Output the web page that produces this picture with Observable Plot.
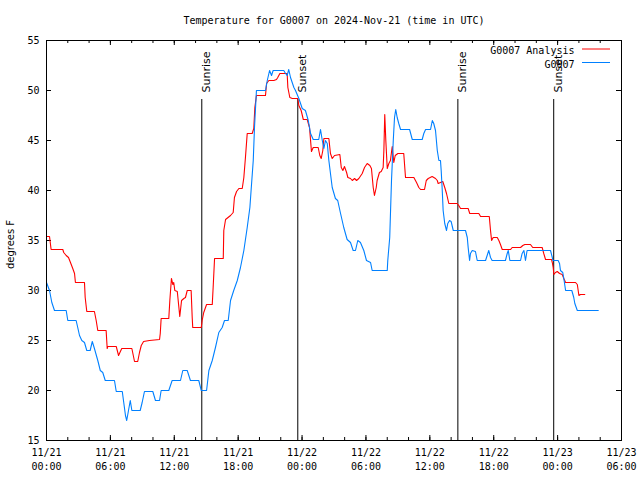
<!DOCTYPE html>
<html>
<head>
<meta charset="utf-8">
<script src="https://cdn.jsdelivr.net/npm/d3@7"></script>
<script src="https://cdn.jsdelivr.net/npm/@observablehq/plot@0.6"></script>
<style>
  html, body { margin: 0; padding: 0; background: #fff; }
  #chart svg { display: block; }
</style>
</head>
<body>
<div id="chart"></div>
<script>
// ---- Data (minutes since 2024-11-21 00:00 UTC, temperatures in °F) ----
const titleText = "Temperature for G0007 on 2024-Nov-21 (time in UTC)";
const yLabel = "degrees F";
const seriesNames = ["G0007 Analysis", "G0007"];

const analysisMinutes = [0,17,26,92,97,111,124,135,148,158,163,214,218,227,270,280,289,336,342,345,393,406,424,481,496,514,524,534,547,580,637,641,646,689,695,704,712,717,723,737,746,751,761,774,783,793,815,821,824,872,877,886,902,934,939,947,996,999,1009,1037,1052,1059,1071,1084,1103,1112,1121,1131,1159,1168,1174,1183,1234,1240,1253,1281,1296,1303,1315,1356,1360,1371,1385,1416,1422,1435,1447,1469,1482,1488,1493,1503,1531,1540,1548,1557,1563,1591,1600,1610,1623,1653,1661,1670,1679,1691,1698,1713,1723,1736,1747,1760,1779,1792,1807,1822,1831,1841,1848,1858,1863,1876,1886,1897,1901,1906,1912,1920,1929,1938,1948,1957,1965,1980,2013,2023,2070,2085,2098,2108,2130,2140,2151,2173,2192,2202,2207,2220,2233,2244,2254,2267,2314,2323,2333,2376,2385,2436,2446,2495,2502,2508,2517,2540,2549,2558,2568,2615,2624,2671,2684,2695,2727,2740,2793,2802,2812,2846,2850,2855,2859,2868,2878,2891,2906,2915,2925,2981,2991,3000,3009,3033];
const analysisTemps = [35.4,35.4,34.1,34.1,33.8,33.5,33.3,32.8,32.2,31.7,30.8,30.8,29.3,27.9,27.9,27.0,26.0,26.0,24.2,24.4,24.4,23.5,24.2,24.2,22.9,22.9,23.8,24.5,24.9,25.0,25.1,25.7,27.2,27.2,29.0,31.2,30.6,30.8,30.0,29.9,28.3,27.4,29.0,29.2,29.3,30.0,30.0,27.3,26.3,26.3,27.0,27.8,28.6,28.6,30.3,33.2,33.2,36.0,37.1,37.5,37.8,39.3,39.9,40.2,40.2,41.3,43.3,45.7,45.7,46.2,48.3,49.5,49.5,50.7,51.0,51.0,51.1,51.3,51.7,51.7,50.3,49.3,49.2,49.2,48.5,48.0,47.1,47.1,46.3,45.0,43.9,44.3,44.3,43.5,43.2,44.0,45.2,45.2,43.7,43.2,43.5,43.6,42.3,42.0,42.4,41.8,41.3,41.2,41.0,41.2,41.0,41.2,41.7,42.3,42.7,42.5,42.2,40.3,39.5,40.3,41.0,41.8,41.9,42.3,44.0,47.6,45.0,42.2,42.7,43.0,44.4,42.8,43.5,43.7,43.7,41.3,41.3,40.8,40.3,40.1,40.1,41.0,41.2,41.4,41.2,41.0,40.7,40.8,40.9,40.3,39.7,38.7,38.7,38.5,38.2,38.2,37.7,37.7,37.4,37.4,36.0,35.0,35.3,35.3,35.0,34.6,34.1,34.1,34.3,34.3,34.5,34.6,34.6,34.3,34.3,33.7,33.1,33.1,32.8,32.3,31.6,31.8,31.9,31.7,31.6,31.2,30.8,30.8,30.6,29.5,29.6,29.6];

const obsMinutes = [0,17,30,45,111,120,167,176,186,199,214,227,246,258,270,289,303,317,331,383,393,427,436,445,452,462,472,481,528,539,552,599,614,637,646,689,708,755,768,793,811,858,872,902,915,934,952,971,990,1003,1024,1037,1055,1075,1093,1112,1131,1146,1154,1165,1172,1183,1234,1244,1257,1268,1277,1337,1347,1356,1365,1375,1394,1403,1422,1441,1459,1475,1488,1503,1534,1544,1554,1563,1572,1582,1591,1610,1628,1641,1657,1675,1694,1713,1728,1741,1754,1769,1788,1803,1826,1835,1920,1923,1934,1944,1954,1961,1968,1976,1985,1995,2046,2061,2117,2126,2136,2164,2174,2182,2192,2202,2211,2220,2224,2230,2235,2244,2254,2261,2271,2280,2292,2361,2371,2376,2384,2389,2399,2417,2427,2474,2483,2492,2502,2511,2586,2596,2602,2611,2671,2680,2690,2699,2708,2840,2850,2853,2883,2891,2896,2909,2915,2925,2960,2971,2977,2991,3109];
const obsTemps = [30.8,30.0,28.8,28.0,28.0,27.0,27.0,26.3,25.5,25.0,24.8,24.0,24.0,24.9,24.2,23.0,22.0,21.8,21.0,21.0,19.9,19.9,18.7,17.5,17.0,18.0,19.0,18.0,18.0,18.8,19.9,19.9,19.0,19.0,20.0,20.0,21.0,21.0,22.0,22.0,21.0,21.0,20.0,20.0,22.0,23.0,24.3,25.8,26.3,27.0,27.0,29.0,30.0,31.0,32.3,34.0,36.3,38.3,40.3,43.0,46.3,50.0,50.0,51.0,52.0,51.5,52.0,52.0,51.7,51.5,52.1,51.3,50.3,50.0,49.2,48.2,48.0,47.0,45.7,45.1,45.1,46.1,45.0,44.2,45.0,44.7,43.0,40.3,39.2,39.0,37.7,36.3,35.1,34.8,34.0,34.0,35.0,34.8,34.0,33.0,32.8,32.0,32.0,33.0,35.3,41.0,45.0,47.3,48.1,47.3,46.7,46.1,46.1,45.1,45.1,45.7,46.1,46.1,47.0,46.7,46.0,44.0,43.0,43.0,42.0,40.0,38.0,36.7,36.0,36.7,37.0,36.9,36.0,36.0,35.3,34.3,33.0,33.7,34.0,33.9,33.0,33.0,33.5,34.0,33.3,33.0,33.0,33.7,34.0,33.0,33.0,33.7,34.0,33.0,34.0,34.0,33.3,33.0,33.0,32.7,32.0,31.8,31.2,30.0,30.0,29.3,28.7,28.0,28.0];

const sunTimes = ["2024-11-21T14:35Z", "2024-11-21T23:36Z", "2024-11-22T14:38Z", "2024-11-22T23:38Z"];
const sunLabels = ["Sunrise", "Sunset", "Sunrise", "Sunset"];

const yTicks = [15, 20, 25, 30, 35, 40, 45, 50, 55];
const xStart = "2024-11-21T00:00Z";
const xEnd = "2024-11-23T06:00Z";

// ---- Build tables ----
const t0 = Date.parse(xStart);
const toDate = m => new Date(t0 + m * 60000);
const analysis = analysisMinutes.map((m, i) => ({time: toDate(m), temp: analysisTemps[i]}));
const obs = obsMinutes.map((m, i) => ({time: toDate(m), temp: obsTemps[i]}));
const sun = sunTimes.map((t, i) => ({time: new Date(t), label: sunLabels[i]}));

const xDomain = [new Date(xStart), new Date(xEnd)];
const majorTicks = d3.utcHour.every(6).range(xDomain[0], new Date(+xDomain[1] + 1));
const minorTicks = d3.utcHour.every(2).range(xDomain[0], new Date(+xDomain[1] + 1));
const pad = n => String(n).padStart(2, "0");
const fmt = d => `${pad(d.getUTCMonth() + 1)}/${pad(d.getUTCDate())}\n${pad(d.getUTCHours())}:${pad(d.getUTCMinutes())}`;

const W = 640, H = 480, ML = 46, MR = 19, MT = 40, MB = 40;
const PW = W - ML - MR, PH = H - MT - MB;
const mono = "DejaVu Sans Mono";
const sans = "DejaVu Sans";
const RED = "#ff0000", BLUE = "#0080ff";

const chart = Plot.plot({
  width: W, height: H,
  marginLeft: ML, marginRight: MR, marginTop: MT, marginBottom: MB,
  style: {background: "#fff", color: "#000"},
  x: {type: "utc", domain: xDomain, axis: null},
  y: {domain: [15, 55], axis: null},
  marks: [
    // ticks (inward, mirrored)
    Plot.ruleX(minorTicks, {x: d => d, insetTop: PH - 3, stroke: "#000"}),
    Plot.ruleX(minorTicks, {x: d => d, insetBottom: PH - 3, stroke: "#000"}),
    Plot.ruleX(majorTicks, {x: d => d, insetTop: PH - 5, stroke: "#000"}),
    Plot.ruleX(majorTicks, {x: d => d, insetBottom: PH - 5, stroke: "#000"}),
    Plot.ruleY(yTicks, {y: d => d, insetRight: PW - 5, stroke: "#000"}),
    Plot.ruleY(yTicks, {y: d => d, insetLeft: PW - 5, stroke: "#000"}),
    // sunrise / sunset
    Plot.ruleX(sun, {x: "time", insetTop: 59, stroke: "#000"}),
    Plot.text(sun, {x: "time", text: "label", frameAnchor: "top", dy: 52, dx: 0, rotate: -90, textAnchor: "start", fontFamily: sans, fontSize: 11, fill: "#000"}),
    // series
    Plot.line(analysis, {x: "time", y: "temp", stroke: RED, strokeWidth: 1.1}),
    Plot.line(obs, {x: "time", y: "temp", stroke: BLUE, strokeWidth: 1.1}),
    Plot.frame({stroke: "#000"}),
    // tick labels
    Plot.text(majorTicks, {x: d => d, text: fmt, frameAnchor: "bottom", lineAnchor: "top", dy: 6, lineHeight: 1.4, fontFamily: mono, fontSize: 10, fill: "#000"}),
    Plot.text(yTicks, {y: d => d, text: d => String(d), frameAnchor: "left", textAnchor: "end", dx: -7, fontFamily: mono, fontSize: 10, fill: "#000"}),
    // titles
    Plot.text([titleText], {frameAnchor: "top", dy: -24, fontFamily: mono, fontSize: 10, fill: "#000"}),
    Plot.text([yLabel], {frameAnchor: "left", textAnchor: "middle", dx: -36, dy: 4, rotate: -90, fontFamily: sans, fontSize: 10, fill: "#000"}),
    // legend text
    Plot.text([seriesNames[0]], {frameAnchor: "top-right", dx: -47, dy: 6, textAnchor: "end", fontFamily: mono, fontSize: 10, fill: "#000"}),
    Plot.text([seriesNames[1]], {frameAnchor: "top-right", dx: -47, dy: 20, textAnchor: "end", fontFamily: mono, fontSize: 10, fill: "#000"})
  ]
});

// legend swatches
const svg = d3.select(chart);
[[RED, MT + 9], [BLUE, MT + 22.5]].forEach(([c, y]) => {
  svg.append("line")
    .attr("x1", W - MR - 39).attr("x2", W - MR - 11)
    .attr("y1", y).attr("y2", y)
    .attr("stroke", c).attr("stroke-width", 1);
});

document.getElementById("chart").appendChild(chart);
</script>
</body>
</html>
